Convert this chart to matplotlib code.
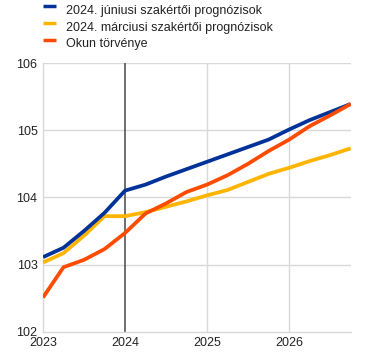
import matplotlib
matplotlib.use("Agg")
import matplotlib.pyplot as plt
from matplotlib.lines import Line2D

plt.rcParams['font.family'] = ['Liberation Sans', 'DejaVu Sans']

quarters = [2023 + i * 0.25 for i in range(16)]
june = [103.11, 103.25, 103.50, 103.77, 104.10, 104.19, 104.31, 104.42,
        104.53, 104.64, 104.75, 104.86, 105.01, 105.15, 105.27, 105.39]
march = [103.03, 103.17, 103.43, 103.72, 103.72, 103.78, 103.86, 103.94,
         104.03, 104.11, 104.23, 104.35, 104.44, 104.54, 104.63, 104.73]
okun = [102.51, 102.96, 103.07, 103.23, 103.47, 103.76, 103.91, 104.08,
        104.19, 104.33, 104.50, 104.69, 104.86, 105.06, 105.22, 105.39]
labels = ["2024. júniusi szakértői prognózisok",
          "2024. márciusi szakértői prognózisok",
          "Okun törvénye"]
colors = ["#003299", "#FFB400", "#FF4B00"]
xticks = [2023, 2024, 2025, 2026]
yticks = [102, 103, 104, 105, 106]

W, H = 378, 356
fig = plt.figure(figsize=(W / 100, H / 100), dpi=100)
ax = fig.add_axes([43/W, 1 - 331.7/H, (350.7-43)/W, (331.7-63)/H])

grid_c = "#d9d9d9"
for y in yticks[1:]:
    ax.axhline(y, color=grid_c, lw=1.0, zorder=0)
for x in xticks[2:]:
    ax.axvline(x, color=grid_c, lw=1.0, zorder=0)
ax.axvline(2024, color="#555555", lw=1.2, zorder=1)

ax.plot(quarters, march, color=colors[1], lw=2.7, zorder=3, solid_capstyle='butt')
ax.plot(quarters, okun, color=colors[2], lw=2.7, zorder=4, solid_capstyle='butt')
ax.plot(quarters, june, color=colors[0], lw=2.7, zorder=3, solid_capstyle='butt')

ax.set_xlim(2023, 2026.75)
ax.set_ylim(102, 106)
ax.set_xticks(xticks)
ax.set_xticklabels([str(x) for x in xticks])
ax.set_yticks(yticks)
ax.tick_params(length=0, labelsize=9, colors="#222222", pad=4)
for sp in ["top", "right"]:
    ax.spines[sp].set_visible(False)
ax.spines["left"].set_color(grid_c)
ax.spines["bottom"].set_color(grid_c)
ax.spines["left"].set_linewidth(1.0)
ax.spines["bottom"].set_linewidth(1.0)

# legend drawn manually in figure pixel positions
handle_y = [5.7, 22.5, 39.5]
text_base = [14, 30.5, 47]
for c, l, hy, ty in zip(colors, labels, handle_y, text_base):
    fig.add_artist(Line2D([43/W, 56/W], [1 - hy/H, 1 - hy/H], color=c, lw=2.5,
                          transform=fig.transFigure, solid_capstyle='butt'))
    fig.text(66/W, 1 - ty/H, l, fontsize=9, color="#222222",
             ha="left", va="baseline")

fig.savefig("out.png", dpi=100)
